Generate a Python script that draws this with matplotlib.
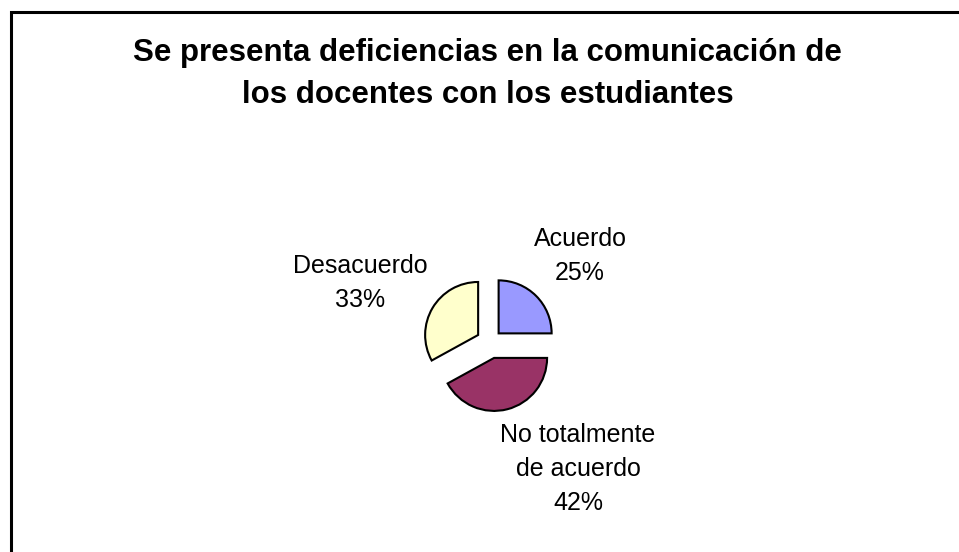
import matplotlib
matplotlib.use("Agg")
import matplotlib.pyplot as plt
from matplotlib.patches import Rectangle

# respuestas de la encuesta
categorias = ["Acuerdo", "No totalmente\nde acuerdo", "Desacuerdo"]
porcentajes = [25, 42, 33]
colores = ["#9999FF", "#993366", "#FFFFCC"]
separacion = [0.23, 0.31, 0.26]

titulo = "Se presenta deficiencias en la comunicación de\nlos docentes con los estudiantes"

W, H = 959, 552
fig = plt.figure(figsize=(W / 100, H / 100), dpi=100)
ax = fig.add_axes([0, 0, 1, 1])

cx, cy, r = 490, H - 342, 53
# en matplotlib el explode va en unidades de datos, no relativo al radio
wedges, _ = ax.pie(porcentajes, colors=colores, explode=[s * r for s in separacion],
                   startangle=90, counterclock=False, center=(cx, cy), radius=r,
                   wedgeprops=dict(edgecolor="black", linewidth=1.5))

# posiciones de las etiquetas respecto al centro del pastel (en pixeles)
desp = [(90, 86), (88, -127), (-130, 59)]
for nombre, p, (dx, dy) in zip(categorias, porcentajes, desp):
    ax.text(cx + dx, cy + dy, f"{nombre}\n{p}%", ha="center", va="center",
            fontsize=18, family="Liberation Sans", linespacing=1.55)

ax.text(W / 2 + 8, H - 74, titulo, ha="center", va="center", fontsize=22.5,
        fontweight="bold", family="Liberation Sans", linespacing=1.5)

# marco del grafico
ax.add_patch(Rectangle((11, -20), W + 20, H - 12 + 20, fill=False,
                       edgecolor="black", linewidth=2.2, clip_on=False))

ax.set_xlim(0, W)
ax.set_ylim(0, H)
ax.set_aspect("auto")
ax.axis("off")

fig.savefig("out.png", dpi=100, facecolor="white")
